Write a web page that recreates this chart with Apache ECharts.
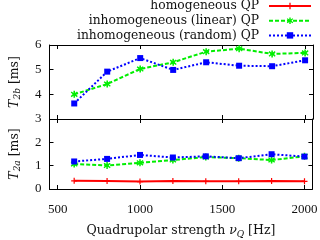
<!DOCTYPE html>
<html><head><meta charset="utf-8">
<script src="https://cdn.jsdelivr.net/npm/echarts@6/dist/echarts.min.js"></script>
<style>html,body{margin:0;padding:0;background:#fff}#c{width:320px;height:240px}</style>
</head><body><div id="c"></div>
<script>
const xs = [600, 800, 1000, 1200, 1400, 1600, 1800, 2000];
const t2bLinear = [4.00, 4.42, 5.03, 5.30, 5.73, 5.85, 5.64, 5.68];
const t2bRandom = [3.63, 4.92, 5.47, 4.99, 5.30, 5.16, 5.14, 5.38];
const t2aHomog = [0.35, 0.34, 0.32, 0.34, 0.33, 0.33, 0.34, 0.33];
const t2aLinear = [1.07, 1.01, 1.12, 1.24, 1.37, 1.32, 1.24, 1.40];
const t2aRandom = [1.18, 1.29, 1.46, 1.35, 1.40, 1.32, 1.49, 1.39];
const xTicks = [500, 1000, 1500, 2000];
const names = ['homogeneous QP', 'inhomogeneous (linear) QP', 'inhomogeneous (random) QP'];

const FONT = 'Liberation Serif';
const LFONT = 'DejaVu Serif';
const pair = arr => xs.map((x, i) => [x, arr[i]]);
const crossPath = 'path://M4,0L6,0L6,4L10,4L10,6L6,6L6,10L4,10L4,6L0,6L0,4L4,4Z';
const starPath = 'path://M4,0L6,0L6,3L8.5,1L9.5,2.5L7,5L9.5,7.5L8.5,9L6,7L6,10L4,10L4,7L1.5,9L0.5,7.5L3,5L0.5,2.5L1.5,1L4,3Z';

const chart = echarts.init(document.getElementById('c'), null, {renderer: 'canvas'});
const grids = [
  {left: 33, right: 7, top: 45, height: 74},
  {left: 33, right: 7, top: 119, height: 72}
];
const txt = '#111';
const richName = {
  n: {fontFamily: LFONT, fontSize: 12.5, color: txt},
  i: {fontFamily: LFONT, fontSize: 12.5, fontStyle: 'italic', color: txt},
  s: {fontFamily: LFONT, fontSize: 9, fontStyle: 'italic', color: txt, padding: [7, 0, 0, 0]}
};
function xAx(grid, pos, labels) {
  return {
    type: 'value', gridIndex: grid, position: pos, min: 450, max: 2048,
    axisLine: {show: true, onZero: false, lineStyle: {color: '#000', width: 1}},
    axisTick: {show: true, inside: true, length: 4, customValues: xTicks, lineStyle: {color: '#000'}},
    axisLabel: {show: labels, customValues: xTicks, margin: 14, fontFamily: FONT, fontSize: 13, color: txt,
                formatter: v => String(v)},
    splitLine: {show: false},
    name: labels ? '{n|Quadrupolar strength }{i|ν}{s|Q}{n| [Hz]}' : '',
    nameLocation: 'middle', nameGap: 34,
    nameTextStyle: {fontFamily: LFONT, fontSize: 12.5, color: txt, rich: richName}
  };
}
function yAx(grid, pos, min, max, labels, sub, hideMax) {
  return {
    type: 'value', gridIndex: grid, position: pos, min: min, max: max, interval: 1,
    axisLine: {show: true, onZero: false, lineStyle: {color: '#000', width: 1}},
    axisTick: {show: true, inside: true, length: 4, lineStyle: {color: '#000'}},
    axisLabel: {show: labels, margin: 8, fontFamily: FONT, fontSize: 13, color: txt, showMaxLabel: !hideMax},
    splitLine: {show: false},
    name: labels ? '{i|T}{s|' + sub + '}{n| [ms]}' : '',
    nameLocation: 'middle', nameGap: 27, nameRotate: 90,
    nameTextStyle: {fontFamily: LFONT, fontSize: 12.5, color: txt, rich: richName}
  };
}
const red = '#ff0000', green = '#00ee00', blue = '#0000ff';
function ser(name, xi, yi, data, color, type, symbol, size) {
  return {
    name: name, type: 'line', xAxisIndex: xi, yAxisIndex: yi, data: pair(data),
    lineStyle: {color: color, width: 2, type: type},
    itemStyle: {color: color},
    symbol: symbol, symbolSize: size, showSymbol: true, animation: false
  };
}
chart.setOption({
  animation: false,
  grid: grids,
  xAxis: [xAx(0, 'bottom', false), xAx(0, 'top', false), xAx(1, 'bottom', true), xAx(1, 'top', false)],
  yAxis: [yAx(0, 'left', 3, 6, true, '2b', false), yAx(0, 'right', 3, 6, false, '', false),
          yAx(1, 'left', 0, 3, true, '2a', true), yAx(1, 'right', 0, 3, false, '', false)],
  legend: {
    data: names, orient: 'vertical', align: 'right', right: 8, top: -1, padding: 0,
    itemWidth: 42, itemHeight: 8, itemGap: 0.7,
    textStyle: {fontFamily: LFONT, fontSize: 12.3, lineHeight: 14, color: txt, padding: [0, 5, 0, 0]}
  },
  series: [
    ser(names[0], 2, 2, t2aHomog, red, 'solid', crossPath, 6),
    ser(names[1], 0, 0, t2bLinear, green, [4, 2], starPath, 7),
    ser(names[2], 0, 0, t2bRandom, blue, [2, 2], 'rect', 6),
    ser(names[1], 2, 2, t2aLinear, green, [4, 2], starPath, 7),
    ser(names[2], 2, 2, t2aRandom, blue, [2, 2], 'rect', 6)
  ]
});
</script></body></html>
